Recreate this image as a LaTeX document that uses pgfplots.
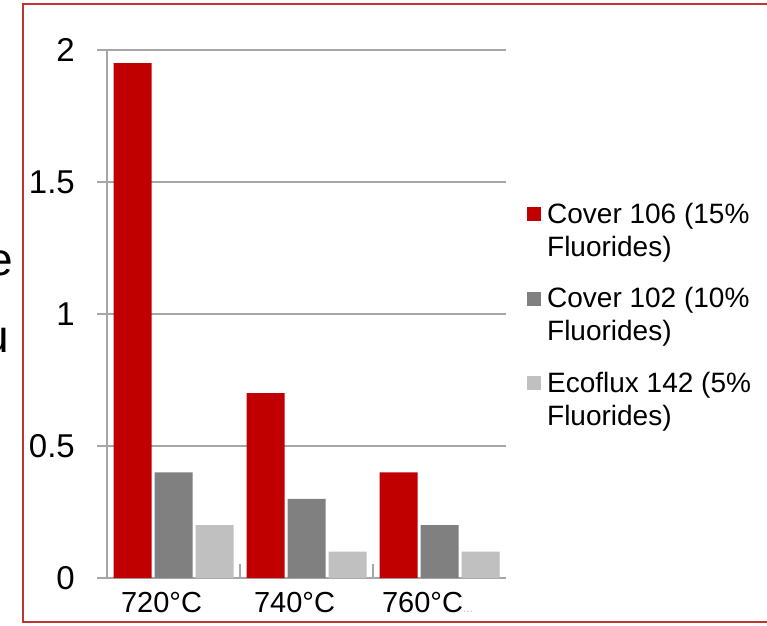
\documentclass[border=0pt]{standalone}
\usepackage{fontspec}
\setmainfont{Liberation Sans}
\usepackage{pgfplots}
\pgfplotsset{compat=1.18}
\definecolor{cred}{HTML}{C00000}
\definecolor{cgray}{HTML}{808080}
\definecolor{clight}{HTML}{C0C0C0}
\definecolor{framec}{HTML}{C43333}
\definecolor{gridc}{HTML}{A6A6A6}

\pgfplotstableread{
x  a    b    c
0  1.95 0.40 0.20
1  0.70 0.30 0.10
2  0.40 0.20 0.10
}\datatable

\begin{document}
\begin{tikzpicture}
\useasboundingbox (0pt,0pt) rectangle (767pt,625pt);
\fill[white] (0pt,0pt) rectangle (767pt,625pt);
\draw[framec, line width=2.5pt] (23pt,3pt) rectangle (800pt,621pt);
\node[anchor=east, inner sep=0pt, font=\fontsize{46}{50}\selectfont] at (13pt,362pt) {e};
\node[anchor=east, inner sep=0pt, font=\fontsize{46}{50}\selectfont] at (9pt,284pt) {u};
\begin{axis}[
  at={(107pt,47pt)}, anchor=south west,
  scale only axis, width=399pt, height=528pt,
  xmin=-0.5, xmax=2.5, ymin=0, ymax=2,
  ybar=3pt, bar width=38pt,
  axis x line=bottom, axis y line=left,
  axis line style={-, gridc, line width=1.3pt},
  tick align=outside,
  ytick={0,0.5,1,1.5,2},
  ymajorgrids, major grid style={gridc, line width=1.3pt},
  major tick length=10pt,
  ytick style={gridc, line width=1.3pt},
  /pgf/number format/assume math mode=true,
  yticklabel style={font=\fontsize{33}{36}\selectfont, inner sep=0pt, xshift=-22pt},
  xtick={0,1,2},
  xticklabels={720°C,740°C,{760°C\textcolor{clight}{\fontsize{12}{12}\selectfont...}}},
  major x tick style={draw=none},
  minor xtick={0.5,1.5},
  minor tick length=14pt,
  minor x tick style={gridc, line width=1.3pt, yshift=14pt},
  xticklabel style={font=\fontsize{29}{32}\selectfont, inner sep=0pt, yshift=-4pt, xshift=-12pt},
  legend style={draw=none, fill=none, inner sep=0pt, outer sep=0pt,
    at={(axis description cs:1.053,0.716)}, anchor=north west,
    font=\fontsize{28}{33}\selectfont, row sep=60pt,
    nodes={inner sep=0pt}},
  legend cell align=left,
  legend image code/.code={\fill[#1] (0pt,-9pt) rectangle (14pt,5pt); \path (20pt,0pt);},
]
\addplot[fill=cred, draw=none] table[x=x, y=a] {\datatable};
\addplot[fill=cgray, draw=none] table[x=x, y=b] {\datatable};
\addplot[fill=clight, draw=none] table[x=x, y=c] {\datatable};
\addlegendentry{\begin{tabular}[t]{@{}l@{}}Cover 106 (15\%\\Fluorides)\end{tabular}}
\addlegendentry{\begin{tabular}[t]{@{}l@{}}Cover 102 (10\%\\Fluorides)\end{tabular}}
\addlegendentry{\begin{tabular}[t]{@{}l@{}}Ecoflux 142 (5\%\\Fluorides)\end{tabular}}
\end{axis}
\end{tikzpicture}
\end{document}
